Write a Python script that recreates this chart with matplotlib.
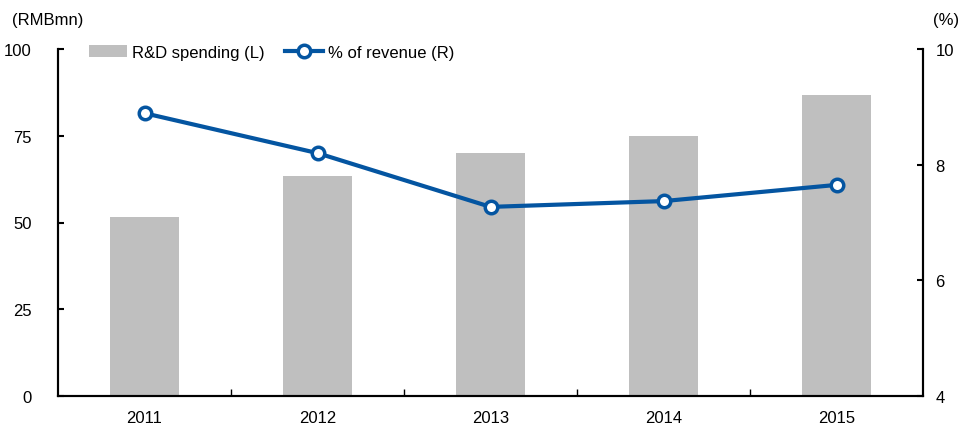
import matplotlib
matplotlib.use("Agg")
import matplotlib.pyplot as plt
import numpy as np

years = ["2011", "2012", "2013", "2014", "2015"]
rd_spending = [51.6, 63.4, 70.0, 74.9, 86.6]
pct_revenue = [8.89, 8.20, 7.27, 7.37, 7.65]

plt.rcParams['font.family'] = ['Liberation Sans', 'DejaVu Sans']

fig = plt.figure(figsize=(9.63, 4.31), dpi=100)
ax = fig.add_axes([58/963, 1-397/431, (923-58)/963, (397-50)/431])
ax2 = ax.twinx()

x = np.arange(len(years))
bars = ax.bar(x, rd_spending, width=0.40, color='#BFBFBF', label='R&D spending (L)', zorder=2)
line, = ax2.plot(x, pct_revenue, color='#0455A1', lw=3, marker='o', ms=9,
                 mfc='white', mec='#0455A1', mew=2.5, label='% of revenue (R)', zorder=3)

ax.set_xlim(-0.5, len(years)-0.5)
ax.set_ylim(0, 100)
ax.set_yticks([0, 25, 50, 75, 100])
ax2.set_ylim(4, 10)
ax2.set_yticks([4, 6, 8, 10])

ax.set_xticks(x)
ax.set_xticklabels(years)
ax.set_xticks(np.arange(0.5, len(years)-0.5, 1), minor=True)
ax.tick_params(axis='x', which='major', length=0, pad=10, labelsize=12)
ax.tick_params(axis='x', which='minor', length=5, direction='in', width=1)
ax.tick_params(axis='y', direction='in', length=4, width=1.5, labelsize=12, pad=19)
ax2.tick_params(axis='y', direction='in', length=4, width=1.5, labelsize=12, pad=9)

for a in (ax, ax2):
    a.spines['top'].set_visible(False)
    for s in ('left', 'right', 'bottom'):
        a.spines[s].set_linewidth(1.5)

ax.set_zorder(ax2.get_zorder() - 1)
ax2.patch.set_visible(False)

fig.text(12/963, 1-20/431, '(RMBmn)', fontsize=12, va='center', ha='left')
fig.text(933/963, 1-20/431, '(%)', fontsize=12, va='center', ha='left')

ax2.legend([bars, line], ['R&D spending (L)', '% of revenue (R)'], loc='upper left',
           bbox_to_anchor=(0.018, 1.055), ncol=2, frameon=False, fontsize=12,
           handlelength=2.3, handletextpad=0.3, columnspacing=1.2)

fig.savefig('out.png', dpi=100)
